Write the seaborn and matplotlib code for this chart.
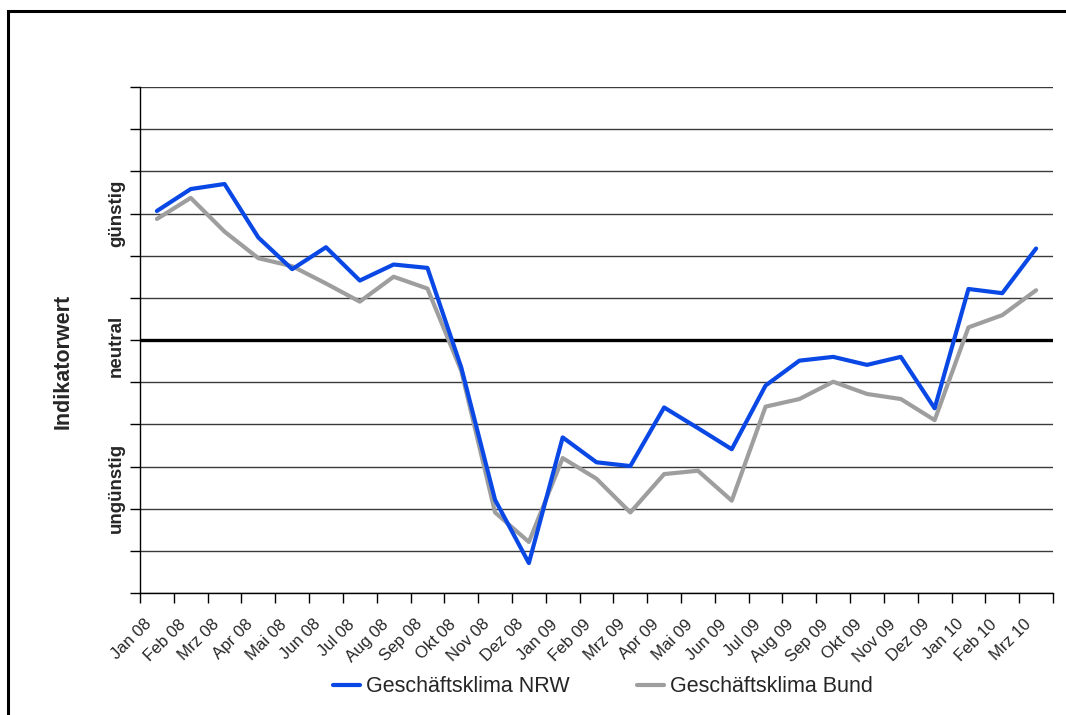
import matplotlib
matplotlib.use("Agg")
import matplotlib.pyplot as plt
import matplotlib.transforms as mtransforms
from matplotlib.patches import Rectangle
from matplotlib.lines import Line2D
from matplotlib.ticker import FixedLocator, NullFormatter
import seaborn as sns
import pandas as pd
import numpy as np

months = ["Jan 08", "Feb 08", "Mrz 08", "Apr 08", "Mai 08", "Jun 08", "Jul 08",
          "Aug 08", "Sep 08", "Okt 08", "Nov 08", "Dez 08", "Jan 09", "Feb 09",
          "Mrz 09", "Apr 09", "Mai 09", "Jun 09", "Jul 09", "Aug 09", "Sep 09",
          "Okt 09", "Nov 09", "Dez 09", "Jan 10", "Feb 10", "Mrz 10"]
nrw = [3.06, 3.58, 3.70, 2.43, 1.68, 2.20, 1.41, 1.79, 1.71, -0.65, -3.79, -5.29,
       -2.31, -2.90, -2.99, -1.60, -2.09, -2.59, -1.08, -0.49, -0.40, -0.59, -0.40,
       -1.62, 1.21, 1.11, 2.17]
bund = [2.87, 3.37, 2.57, 1.94, 1.75, 1.34, 0.91, 1.50, 1.22, -0.73, -4.09, -4.79,
        -2.80, -3.29, -4.09, -3.18, -3.10, -3.81, -1.58, -1.40, -0.99, -1.28, -1.40,
        -1.90, 0.30, 0.59, 1.18]
series_names = ["Geschäftsklima NRW", "Geschäftsklima Bund"]
level_labels = ["günstig", "neutral", "ungünstig"]
level_pos = [3.0, -0.15, -3.5]
y_label = "Indikatorwert"

df = pd.DataFrame({
    "idx": list(range(len(months))) * 2,
    "wert": nrw + bund,
    "serie": [series_names[0]] * len(months) + [series_names[1]] * len(months),
})

sns.set_style("white")
plt.rcParams["font.family"] = ["Liberation Sans", "DejaVu Sans"]

fig = plt.figure(figsize=(10.66, 7.15), dpi=100)
ax = fig.add_axes([140 / 1066, 1 - 593 / 715, (1053 - 140) / 1066, (593 - 87) / 715])

ax.set_ylim(-6, 6)
ax.set_xlim(-0.5, len(months) - 0.5)
for v in range(-6, 7):
    ax.axhline(v, color="#3a3a3a", lw=1.0, zorder=1)
ax.axhline(0, color="black", lw=2.4, zorder=2)

palette = {series_names[0]: "#0A48E6", series_names[1]: "#9E9E9E"}
sns.lineplot(data=df, x="idx", y="wert", hue="serie", palette=palette,
             hue_order=[series_names[1], series_names[0]],
             lw=3.0, ax=ax, legend=False, zorder=3)

for s in ["top", "right"]:
    ax.spines[s].set_visible(False)
for s in ["left", "bottom"]:
    ax.spines[s].set_color("black")
    ax.spines[s].set_linewidth(1.0)

ax.set_yticks(range(-6, 7))
ax.set_yticklabels([])
ax.tick_params(axis="y", which="major", direction="out", length=7, width=1, color="black", left=True)

ax.set_xticks(range(len(months)))
ax.set_xticklabels(months, rotation=45, ha="right", va="top", rotation_mode="anchor", fontsize=12)
ax.tick_params(axis="x", which="major", length=0, pad=17)
shift = mtransforms.ScaledTranslation(-13 / 100, 0, fig.dpi_scale_trans)
for lab in ax.get_xticklabels():
    lab.set_transform(lab.get_transform() + shift)
ax.xaxis.set_minor_locator(FixedLocator(np.arange(-0.5, len(months), 1.0)))
ax.xaxis.set_minor_formatter(NullFormatter())
ax.tick_params(axis="x", which="minor", direction="out", length=7, width=1, color="black", bottom=True)
ax.set_xlabel("")
ax.set_ylabel("")

for lab, pos in zip(level_labels, level_pos):
    ax.text(-0.026, pos, lab, transform=ax.get_yaxis_transform(), rotation=90,
            ha="center", va="center", fontsize=13.5, fontweight="bold")
fig.text(63 / 1066, 1 - 361 / 715, y_label, rotation=90, ha="center", va="center",
         fontsize=15.5, fontweight="bold")

handles = [Line2D([], [], color=palette[n], lw=3.0) for n in series_names]
fig.legend(handles, series_names, loc="center", bbox_to_anchor=(603 / 1066, 1 - 687 / 715),
           ncol=2, frameon=False, fontsize=15.5, handlelength=1.25, handletextpad=0.3,
           columnspacing=3.1)

fig.patches.append(Rectangle((8 / 1066, -0.2), 1.2, 1.2 - 11 / 715, transform=fig.transFigure,
                             fill=False, edgecolor="black", lw=2.2, figure=fig))

fig.savefig("out.png", dpi=100)
